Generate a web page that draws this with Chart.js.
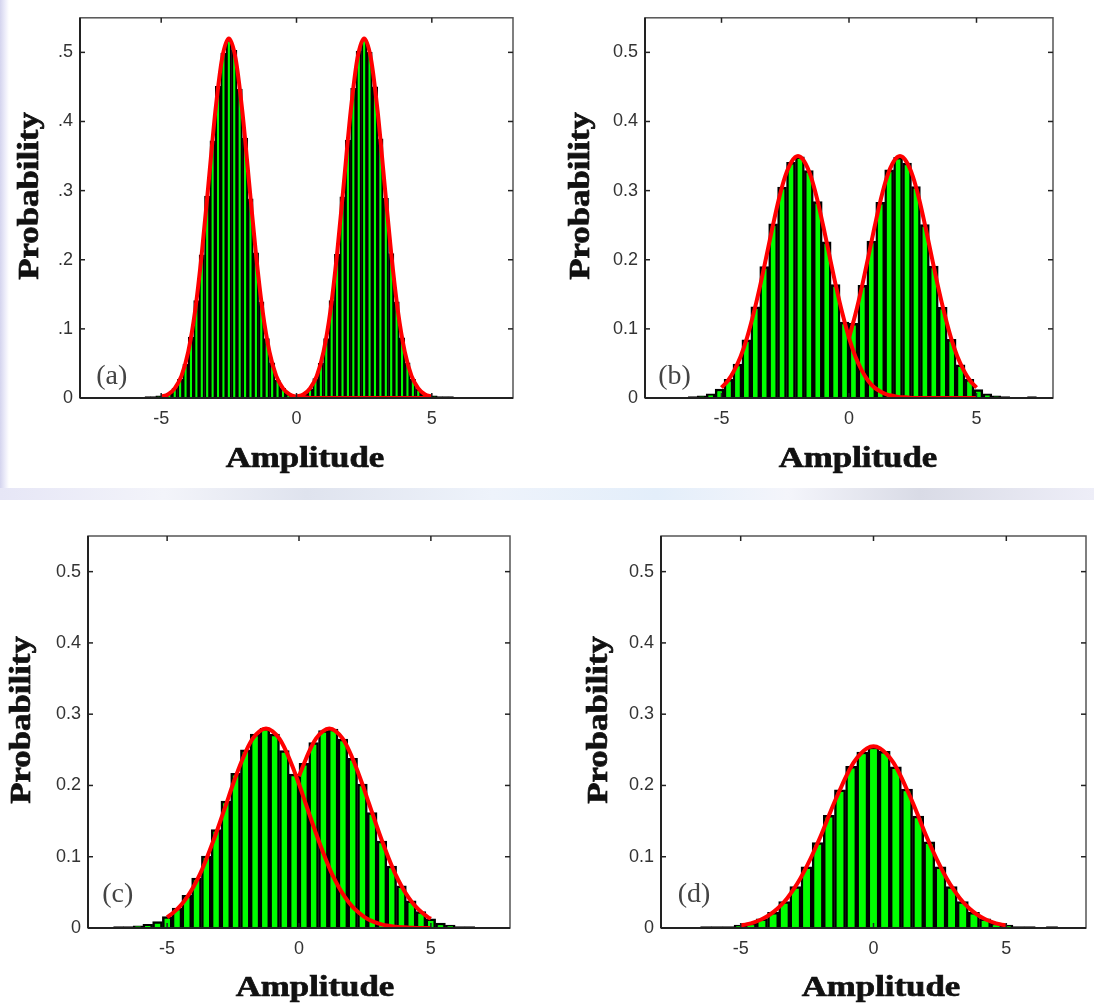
<!DOCTYPE html>
<html>
<head>
<meta charset="utf-8">
<title>Amplitude distributions</title>
<script src="https://cdn.jsdelivr.net/npm/chart.js@4.4.0/dist/chart.umd.min.js"></script>
<style>
  html, body { margin: 0; padding: 0; background: #fff; }
  body { position: relative; width: 1094px; height: 1005px; overflow: hidden; }
  canvas { position: absolute; }
  .edge { position: absolute; left: 0; top: 0; width: 9px; height: 495px;
          background: linear-gradient(90deg, #d4d4ee, #eeeefa 60%, #fff); }
  .band { position: absolute; left: 0; top: 488px; width: 1094px; height: 12px;
          background: linear-gradient(90deg, #e6e6f6, #f3f4fa 15%, #dfe3ee 28%, #eef3fb 45%,
                      #e3eefa 60%, #f4f5fb 72%, #d9dbe6 84%, #eeeef8); }
</style>
</head>
<body>
<div class="edge"></div>
<div class="band"></div>
<canvas id="panelA" width="547" height="490" style="left:0;top:0"></canvas>
<canvas id="panelB" width="547" height="490" style="left:547px;top:0"></canvas>
<canvas id="panelC" width="547" height="505" style="left:0;top:500px"></canvas>
<canvas id="panelD" width="547" height="505" style="left:547px;top:500px"></canvas>
<script>
/* ── AXES ───────────────────────────────────────── */
const xTicks = [-5, 0, 5];
const xTickLabels = ["-5", "0", "5"];
const yTicks = [0, 0.1, 0.2, 0.3, 0.4, 0.5];
const yTickLabelsShort = ["0", ".1", ".2", ".3", ".4", ".5"];
const yTickLabels = ["0", "0.1", "0.2", "0.3", "0.4", "0.5"];
const xTitle = "Amplitude";
const yTitle = "Probability";

// sample points of the fitted curves
const fitX = [-5, -4.75, -4.5, -4.25, -4, -3.75, -3.5, -3.25, -3, -2.75, -2.5, -2.25, -2, -1.75, -1.5, -1.25, -1, -0.75, -0.5, -0.25,
  0, 0.25, 0.5, 0.75, 1, 1.25, 1.5, 1.75, 2, 2.25, 2.5, 2.75, 3, 3.25, 3.5, 3.75, 4, 4.25, 4.5, 4.75, 5];
const halfX = [0, 0.25, 0.5, 0.75, 1, 1.25, 1.5, 1.75, 2, 2.25, 2.5, 2.75, 3, 3.25, 3.5, 3.75, 4, 4.25, 4.5, 4.75, 5];

/* ── PANEL (a) ──────────────────────────────────── */
const aBins = [-5.5, -5.3, -5.1, -4.9, -4.7, -4.5, -4.3, -4.1, -3.9, -3.7, -3.5, -3.3, -3.1, -2.9, -2.7, -2.5, -2.3, -2.1, -1.9, -1.7,
  -1.5, -1.3, -1.1, -0.9, -0.7, -0.5, -0.3, -0.1, 0.1, 0.3, 0.5, 0.7, 0.9, 1.1, 1.3, 1.5, 1.7, 1.9, 2.1, 2.3,
  2.5, 2.7, 2.9, 3.1, 3.3, 3.5, 3.7, 3.9, 4.1, 4.3, 4.5, 4.7, 4.9, 5.1, 5.3, 5.5, 5.7];
const aProb = [0.002, 0.002, 0.003, 0.004, 0.007, 0.014, 0.027, 0.049, 0.088, 0.141, 0.207, 0.292, 0.372, 0.451, 0.499, 0.518, 0.503, 0.447, 0.376, 0.288,
  0.210, 0.139, 0.086, 0.051, 0.026, 0.014, 0.006, 0.003, 0.003, 0.006, 0.013, 0.028, 0.050, 0.086, 0.141, 0.208, 0.291, 0.373, 0.448, 0.502,
  0.519, 0.500, 0.450, 0.375, 0.289, 0.209, 0.139, 0.087, 0.051, 0.027, 0.013, 0.006, 0.004, 0.003, 0.002, 0.002, 0.002];
const aLeftFit = [0.002, 0.005, 0.014, 0.032, 0.067, 0.125, 0.209, 0.311, 0.414, 0.491, 0.520, 0.491, 0.414, 0.311, 0.209, 0.125, 0.067, 0.032, 0.014, 0.005,
  0.002, 0.001, 0, 0, 0, 0, 0, 0, 0, 0, 0, 0, 0, 0, 0, 0, 0, 0, 0, 0, 0];
const aRightFit = [0.002, 0.005, 0.014, 0.032, 0.067, 0.125, 0.209, 0.311, 0.414, 0.491, 0.520, 0.491, 0.414, 0.311, 0.209, 0.125, 0.067, 0.032, 0.014, 0.005, 0.002];

/* ── PANEL (b) ──────────────────────────────────── */
const bBins = [-6.125, -5.775, -5.425, -5.075, -4.725, -4.375, -4.025, -3.675, -3.325, -2.975, -2.625, -2.275, -1.925, -1.575, -1.225, -0.875, -0.525, -0.175,
  0.175, 0.525, 0.875, 1.225, 1.575, 1.925, 2.275, 2.625, 2.975, 3.325, 3.675, 4.025, 4.375, 4.725, 5.075, 5.425, 5.775, 6.125, 7.175];
const bProb = [0.002, 0.003, 0.006, 0.013, 0.027, 0.049, 0.084, 0.132, 0.190, 0.252, 0.305, 0.341, 0.349, 0.329, 0.284, 0.226, 0.164, 0.110,
  0.108, 0.163, 0.227, 0.283, 0.330, 0.348, 0.340, 0.306, 0.251, 0.191, 0.131, 0.085, 0.048, 0.027, 0.012, 0.006, 0.003, 0.002, 0.002];
const bLeftFit = [0.015, 0.025, 0.040, 0.060, 0.087, 0.121, 0.160, 0.203, 0.247, 0.288, 0.321, 0.342, 0.350, 0.342, 0.321, 0.288, 0.247, 0.203, 0.160, 0.121,
  0.087, 0.060, 0.040, 0.025, 0.015, 0.009, 0.005, 0.003, 0.001, 0.001, 0, 0, 0, 0, 0, 0, 0, 0, 0, 0, 0];
const bRightFit = [0.087, 0.121, 0.160, 0.203, 0.247, 0.288, 0.321, 0.342, 0.350, 0.342, 0.321, 0.288, 0.247, 0.203, 0.160, 0.121, 0.087, 0.060, 0.040, 0.025, 0.015];

/* ── PANEL (c) ──────────────────────────────────── */
const cBins = [-6.845, -6.475, -6.105, -5.735, -5.365, -4.995, -4.625, -4.255, -3.885, -3.515, -3.145, -2.775, -2.405, -2.035, -1.665, -1.295, -0.925, -0.555, -0.185,
  0.185, 0.555, 0.925, 1.295, 1.665, 2.035, 2.405, 2.775, 3.145, 3.515, 3.885, 4.255, 4.625, 4.995, 5.365, 5.735, 6.105, 6.475];
const cProb = [0.002, 0.002, 0.003, 0.005, 0.009, 0.016, 0.028, 0.046, 0.070, 0.101, 0.138, 0.178, 0.217, 0.250, 0.272, 0.280, 0.272, 0.249, 0.216,
  0.231, 0.260, 0.277, 0.279, 0.265, 0.238, 0.202, 0.162, 0.122, 0.087, 0.059, 0.038, 0.023, 0.013, 0.007, 0.004, 0.002, 0.002];
const cLeftFit = [0.015, 0.022, 0.031, 0.043, 0.058, 0.076, 0.098, 0.122, 0.148, 0.175, 0.202, 0.227, 0.249, 0.266, 0.276, 0.280, 0.276, 0.266, 0.249, 0.227,
  0.202, 0.175, 0.148, 0.122, 0.098, 0.076, 0.058, 0.043, 0.031, 0.022, 0.015, 0.010, 0.0065, 0.004, 0.0026, 0.0015, 0.001, 0.0005, 0, 0, 0];
const cRightX = [0, 0.15, 0.4, 0.65, 0.9, 1.15, 1.4, 1.65, 1.9, 2.15, 2.4, 2.65, 2.9, 3.15, 3.4, 3.65, 3.9, 4.15, 4.4, 4.65, 4.9, 5];
const cRightFit = [0.213, 0.227, 0.249, 0.266, 0.276, 0.280, 0.276, 0.266, 0.249, 0.227, 0.202, 0.175, 0.148, 0.122, 0.098, 0.076, 0.058, 0.043, 0.031, 0.022, 0.015, 0.013];

/* ── PANEL (d) ──────────────────────────────────── */
const dBins = [-6.3, -5.88, -5.46, -5.04, -4.62, -4.2, -3.78, -3.36, -2.94, -2.52, -2.1, -1.68, -1.26, -0.84, -0.42, 0,
  0.42, 0.84, 1.26, 1.68, 2.1, 2.52, 2.94, 3.36, 3.78, 4.2, 4.62, 5.04, 5.46, 5.88, 6.3, 6.72];
const dProb = [0.002, 0.002, 0.002, 0.004, 0.007, 0.013, 0.022, 0.037, 0.058, 0.086, 0.120, 0.158, 0.194, 0.227, 0.247, 0.254,
  0.248, 0.226, 0.195, 0.157, 0.121, 0.086, 0.058, 0.037, 0.022, 0.013, 0.007, 0.004, 0.002, 0.002, 0.001, 0.002];
const dFit = [0.0035, 0.0054, 0.008, 0.0116, 0.0165, 0.023, 0.0314, 0.0419, 0.0548, 0.0699, 0.0875, 0.107, 0.128, 0.151, 0.174, 0.195, 0.215, 0.232, 0.244, 0.252,
  0.255, 0.252, 0.244, 0.232, 0.215, 0.195, 0.174, 0.151, 0.128, 0.107, 0.0875, 0.0699, 0.0548, 0.0419, 0.0314, 0.023, 0.0165, 0.0116, 0.008, 0.0054, 0.0035];

/* ── FRAME, INWARD TICKS, TITLES, PANEL TAG ─────── */
// the serif titles in the figure are drawn wide and heavy
const TITLE_FONT = 'bold 29px "Liberation Serif"';
const TITLE_STRETCH = 1.2;

function stretchedText(ctx, text, x, y, angle) {
  ctx.save();
  ctx.translate(x, y);
  ctx.rotate(angle);
  ctx.scale(TITLE_STRETCH, 1);
  ctx.font = TITLE_FONT;
  ctx.fillStyle = "#111";
  ctx.strokeStyle = "#111";
  ctx.lineWidth = 0.7;
  ctx.textAlign = "center";
  ctx.textBaseline = "alphabetic";
  ctx.fillText(text, 0, 0);
  ctx.strokeText(text, 0, 0);
  ctx.restore();
}

const framePlugin = {
  id: "frame",
  afterDraw(chart, args, opts) {
    const { ctx, chartArea: a, scales } = chart;
    const sx = scales.x, sy = scales.y;
    const seg = (x1, y1, x2, y2) => { ctx.beginPath(); ctx.moveTo(x1, y1); ctx.lineTo(x2, y2); ctx.stroke(); };
    ctx.save();
    ctx.strokeStyle = "#555";
    ctx.lineWidth = 1.5;
    ctx.strokeRect(a.left, a.top, a.right - a.left, a.bottom - a.top);
    ctx.strokeStyle = "#222";
    ctx.lineWidth = 2;
    seg(a.left, a.top, a.left, a.bottom);
    seg(a.left, a.bottom, a.right, a.bottom);

    ctx.lineWidth = 1.5;
    xTicks.forEach((v) => {
      const px = sx.getPixelForValue(v);
      seg(px, a.bottom, px, a.bottom - 5);
      seg(px, a.top, px, a.top + 5);
    });
    yTicks.forEach((v) => {
      const py = sy.getPixelForValue(v);
      seg(a.left, py, a.left + 5, py);
      seg(a.right, py, a.right - 5, py);
    });

    ctx.font = '28px "Liberation Serif"';
    ctx.fillStyle = "#444";
    ctx.textBaseline = "alphabetic";
    ctx.fillText(opts.tag, sx.getPixelForValue(opts.tagAt[0]), sy.getPixelForValue(opts.tagAt[1]));
    ctx.restore();

    stretchedText(ctx, xTitle, opts.xTitleAt[0], opts.xTitleAt[1], 0);
    stretchedText(ctx, yTitle, opts.yTitleAt[0], opts.yTitleAt[1], -Math.PI / 2);
  },
};

/* ── BUILD A PANEL ──────────────────────────────── */
const tickFont = { family: "Liberation Sans", size: 18 };

function makePanel(p) {
  const datasets = [
    {
      type: "bar",
      data: p.bins.map((x, i) => ({ x, y: p.prob[i] })),
      backgroundColor: "#00ff00",
      borderColor: "#000",
      borderWidth: p.edge,
      barPercentage: 1,
      categoryPercentage: 1,
      order: 2,
    },
  ];
  p.fits.forEach((f) => {
    datasets.push({
      type: "line",
      data: f.x.map((x, i) => ({ x, y: f.y[i] })),
      borderColor: "#ff0000",
      borderWidth: 4,
      pointRadius: 0,
      fill: false,
      cubicInterpolationMode: "monotone",
      order: 1,
    });
  });

  new Chart(document.getElementById(p.id), {
    type: "bar",
    data: { datasets },
    options: {
      responsive: false,
      animation: false,
      devicePixelRatio: 1,
      layout: { padding: p.pad },
      plugins: {
        legend: { display: false },
        tooltip: { enabled: false },
        frame: { tag: p.tag, tagAt: p.tagAt, xTitleAt: p.xTitleAt, yTitleAt: p.yTitleAt },
      },
      scales: {
        x: {
          type: "linear",
          min: -8,
          max: 8,
          offset: false,
          grid: { display: false, drawTicks: false, offset: false },
          border: { display: false },
          afterBuildTicks: (s) => { s.ticks = xTicks.map((v) => ({ value: v })); },
          afterFit: (s) => { s.height = p.xH; },
          ticks: {
            padding: 10,
            maxRotation: 0,
            autoSkip: false,
            color: "#333",
            font: tickFont,
            callback: (v, i) => xTickLabels[i],
          },
        },
        y: {
          type: "linear",
          min: 0,
          max: 0.55,
          grid: { display: false, drawTicks: false },
          border: { display: false },
          afterBuildTicks: (s) => { s.ticks = yTicks.map((v) => ({ value: v })); },
          afterFit: (s) => { s.width = p.yW; },
          ticks: {
            padding: 7,
            autoSkip: false,
            color: "#333",
            font: tickFont,
            callback: (v, i) => p.yLabels[i],
          },
        },
      },
    },
    plugins: [framePlugin],
  });
}

/* ── INIT ───────────────────────────────────────── */
makePanel({
  id: "panelA", tag: "(a)", tagAt: [-7.4, 0.02], yLabels: yTickLabelsShort, edge: 2,
  pad: { left: 12.5, top: 13, right: 34, bottom: 17.5 }, yW: 67.5, xH: 74.5,
  xTitleAt: [305, 467], yTitleAt: [38, 196],
  bins: aBins, prob: aProb,
  fits: [{ x: fitX, y: aLeftFit }, { x: halfX, y: aRightFit }],
});
makePanel({
  id: "panelB", tag: "(b)", tagAt: [-7.48, 0.02], yLabels: yTickLabels, edge: 2.5,
  pad: { left: 17.5, top: 13, right: 41, bottom: 17.5 }, yW: 80.5, xH: 74.5,
  xTitleAt: [311, 467], yTitleAt: [42, 196],
  bins: bBins, prob: bProb,
  fits: [{ x: fitX, y: bLeftFit }, { x: halfX, y: bRightFit }],
});
makePanel({
  id: "panelC", tag: "(c)", tagAt: [-7.46, 0.036], yLabels: yTickLabels, edge: 2.5,
  pad: { left: 4.5, top: 36, right: 37, bottom: 0.5 }, yW: 83.5, xH: 76.5,
  xTitleAt: [315, 496], yTitleAt: [30, 220],
  bins: cBins, prob: cProb,
  fits: [{ x: fitX, y: cLeftFit }, { x: cRightX, y: cRightFit }],
});
makePanel({
  id: "panelD", tag: "(d)", tagAt: [-7.37, 0.036], yLabels: yTickLabels, edge: 2.5,
  pad: { left: 34.5, top: 36, right: 8, bottom: 0.5 }, yW: 79.5, xH: 76.5,
  xTitleAt: [334, 496], yTitleAt: [60, 220],
  bins: dBins, prob: dProb,
  fits: [{ x: fitX, y: dFit }],
});
</script>
</body>
</html>
